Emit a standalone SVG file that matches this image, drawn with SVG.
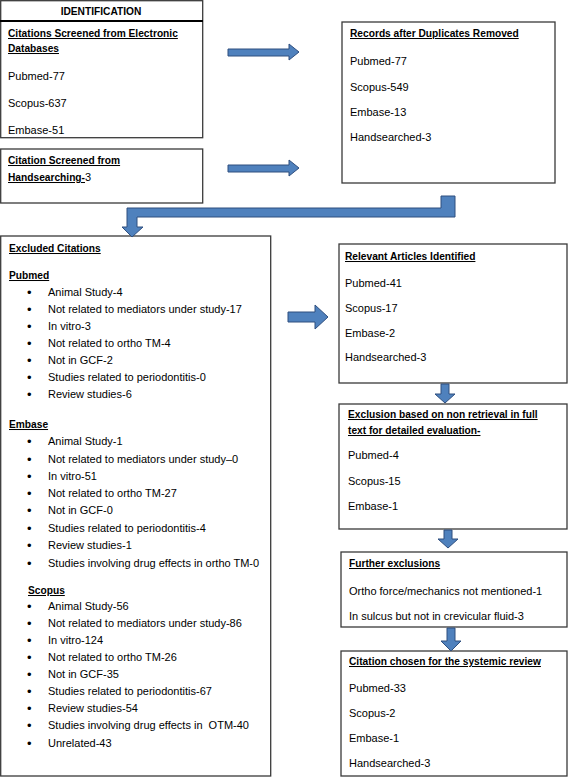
<svg xmlns="http://www.w3.org/2000/svg" width="568" height="777" viewBox="0 0 568 777">
<style>
text{font-family:"Liberation Sans",Arial,sans-serif;font-size:11px;fill:#000}
.h{font-weight:bold;text-decoration:underline;font-size:10.2px}
.c{font-weight:bold;text-anchor:middle;font-size:10.2px}
.b{font-size:13px}
.box{fill:#fff;stroke:#3a3a3a;stroke-width:1.3}
.arr{fill:#4F81BD;stroke:#2F4F7F;stroke-width:1}
</style>
<rect width="568" height="777" fill="#fff"/>
<g id="identification">
<rect class="box" x="0.7" y="0.7" width="202" height="137"/>
<line x1="0" y1="21" x2="203" y2="21" stroke="#000" stroke-width="2"/>
<text class="c" x="101" y="15">IDENTIFICATION</text>
<text class="h" x="8" y="37">Citations Screened from Electronic </text>
<text class="h" x="8" y="52">Databases</text>
<text x="8" y="80">Pubmed-77</text>
<text x="8" y="107">Scopus-637</text>
<text x="8" y="134">Embase-51</text>
</g>
<g id="handsearching">
<rect class="box" x="0.7" y="149" width="202" height="54"/>
<text class="h" x="8" y="164">Citation Screened from </text>
<text x="8" y="181"><tspan class="h">Handsearching-</tspan>3</text>
</g>
<g id="records">
<rect class="box" x="342" y="22" width="213" height="161"/>
<text class="h" x="350" y="37">Records after Duplicates Removed</text>
<text x="350" y="65">Pubmed-77</text>
<text x="350" y="91">Scopus-549</text>
<text x="350" y="116">Embase-13</text>
<text x="350" y="141">Handsearched-3</text>
</g>
<g id="excluded">
<rect class="box" x="0.7" y="236" width="270" height="540"/>
<text class="h" x="9" y="252">Excluded Citations</text>
<text class="h" x="9" y="279">Pubmed</text>
<g>
<text class="b" x="27" y="297">•</text><text x="48" y="296">Animal Study-4</text>
<text class="b" x="27" y="314">•</text><text x="48" y="313">Not related to mediators under study-17</text>
<text class="b" x="27" y="331">•</text><text x="48" y="330">In vitro-3</text>
<text class="b" x="27" y="348">•</text><text x="48" y="347">Not related to ortho TM-4</text>
<text class="b" x="27" y="365">•</text><text x="48" y="364">Not in GCF-2</text>
<text class="b" x="27" y="382">•</text><text x="48" y="381">Studies related to periodontitis-0</text>
<text class="b" x="27" y="399">•</text><text x="48" y="398">Review studies-6</text>
</g>
<text class="h" x="9" y="428">Embase</text>
<g>
<text class="b" x="27" y="446">•</text><text x="48" y="445">Animal Study-1</text>
<text class="b" x="27" y="464">•</text><text x="48" y="463">Not related to mediators under study–0</text>
<text class="b" x="27" y="481">•</text><text x="48" y="480">In vitro-51</text>
<text class="b" x="27" y="498">•</text><text x="48" y="497">Not related to ortho TM-27</text>
<text class="b" x="27" y="515">•</text><text x="48" y="514">Not in GCF-0</text>
<text class="b" x="27" y="533">•</text><text x="48" y="532">Studies related to periodontitis-4</text>
<text class="b" x="27" y="550">•</text><text x="48" y="549">Review studies-1</text>
<text class="b" x="27" y="568">•</text><text x="48" y="567">Studies involving drug effects in ortho TM-0</text>
</g>
<text class="h" x="28" y="594">Scopus</text>
<g>
<text class="b" x="27" y="611">•</text><text x="48" y="610">Animal Study-56</text>
<text class="b" x="27" y="628">•</text><text x="48" y="627">Not related to mediators under study-86</text>
<text class="b" x="27" y="645">•</text><text x="48" y="644">In vitro-124</text>
<text class="b" x="27" y="662">•</text><text x="48" y="661">Not related to ortho TM-26</text>
<text class="b" x="27" y="679">•</text><text x="48" y="678">Not in GCF-35</text>
<text class="b" x="27" y="696">•</text><text x="48" y="695">Studies related to periodontitis-67</text>
<text class="b" x="27" y="713">•</text><text x="48" y="712">Review studies-54</text>
<text class="b" x="27" y="730">•</text><text x="48" y="729" xml:space="preserve">Studies involving drug effects in  OTM-40</text>
<text class="b" x="27" y="748">•</text><text x="48" y="747">Unrelated-43</text>
</g>
</g>
<g id="relevant">
<rect class="box" x="339" y="244" width="228" height="139"/>
<text class="h" x="345" y="260">Relevant Articles Identified</text>
<text x="345" y="287">Pubmed-41</text>
<text x="345" y="312">Scopus-17</text>
<text x="345" y="337">Embase-2</text>
<text x="345" y="361">Handsearched-3</text>
</g>
<g id="exclusion-retrieval">
<rect class="box" x="339" y="404" width="228" height="125"/>
<text class="h" x="348" y="418">Exclusion based on non retrieval in full </text>
<text class="h" x="348" y="434">text for detailed evaluation-</text>
<text x="348" y="459">Pubmed-4</text>
<text x="348" y="485">Scopus-15</text>
<text x="348" y="510">Embase-1</text>
</g>
<g id="further-exclusions">
<rect class="box" x="341" y="552" width="226" height="75"/>
<text class="h" x="349" y="567">Further exclusions</text>
<text x="349" y="595">Ortho force/mechanics not mentioned-1</text>
<text x="349" y="620">In sulcus but not in crevicular fluid-3</text>
</g>
<g id="chosen">
<rect class="box" x="341" y="651" width="226" height="125"/>
<text class="h" x="349" y="665">Citation chosen for the systemic review</text>
<text x="349" y="692">Pubmed-33</text>
<text x="349" y="717">Scopus-2</text>
<text x="349" y="742">Embase-1</text>
<text x="349" y="767">Handsearched-3</text>
</g>
<g id="connectors">
<path class="arr" d="M228,49 H289 V44 L299,52 L289,60 V56 H228 Z"/>
<path class="arr" d="M228,165 H289 V160 L299,168 L289,176 V172 H228 Z"/>
<path class="arr" d="M441,196 H455 V217 H137 V227 H143 L132,237 L122,227 H127 V208 H441 Z"/>
<path class="arr" d="M288,312 H315 V305 L328,317 L315,329 V322 H288 Z"/>
<path class="arr" d="M441,384 H449 V394 H455 L445,403 L435,394 H441 Z"/>
<path class="arr" d="M444,530 H452 V539 H458 L448,548 L438,539 H444 Z"/>
<path class="arr" d="M447,628 H455 V641 H461 L451,651 L441,641 H447 Z"/>
</g>
</svg>
